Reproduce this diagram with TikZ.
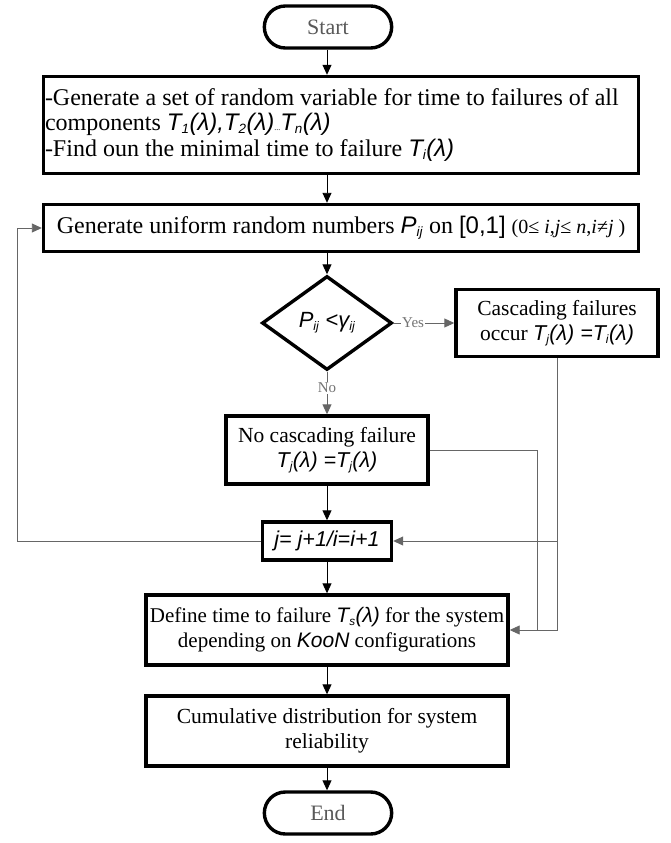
\documentclass[tikz,border=0pt]{standalone}
\usepackage{fontspec}
\setmainfont{Liberation Serif}
\newfontfamily\arf{Liberation Sans}
\usetikzlibrary{shapes.geometric,shapes.misc,arrows.meta}
\newcommand{\sv}[1]{{\arf\itshape #1}}
\newcommand{\sbs}[1]{\scalebox{0.8}{\textsubscript{#1}}}
\begin{document}
\begin{tikzpicture}[x=1pt,y=-1pt,
  box/.style={draw, line width=3.4pt, align=center, inner sep=2pt, font=\fontsize{21.5}{25}\selectfont},
  term/.style={draw, rounded rectangle, line width=3.4pt, minimum width=134pt, minimum height=42pt, text=black!65, font=\fontsize{22}{26}\selectfont},
  arr/.style={-{Triangle[length=10pt,width=9pt]}, line width=0.9pt},
  garr/.style={arr, draw=black!60},
  gline/.style={line width=0.9pt, draw=black!60},
  lbl/.style={text=black!55, font=\fontsize{15}{17}\selectfont, fill=white, inner sep=1pt}]
\useasboundingbox (0,0) rectangle (671,843);

\node[term] (start) at (328,27) {Start};

\node[box, minimum width=595pt, minimum height=97pt] (b1) at (341,125) {};
\node[anchor=west, align=left, inner sep=0pt, font=\fontsize{24}{25.5}\selectfont] (b1t) at ([xshift=3pt]b1.west)
 {-Generate a set of random variable for time to failures of all\\
  components \sv{T\sbs{1}(λ),T\sbs{2}(λ)}{\fontsize{8}{8}\selectfont...}\sv{T\sbs{n}(λ)}\\
  -Find oun the minimal time to failure \sv{T\sbs{i}(λ)}};

\node[box, minimum width=595pt, minimum height=47pt, font=\fontsize{24}{28}\selectfont] (b2) at (341,228)
 {Generate uniform random numbers \sv{P\sbs{ij}} on {\arf [0,1]} {\fontsize{20}{24}\selectfont (0≤ \textit{i},\textit{j}≤ \textit{n},\textit{i}≠\textit{j} )}};

\node[draw, diamond, aspect=1.38, minimum width=130pt, minimum height=94pt, inner sep=0pt, line width=3.4pt, font=\fontsize{22}{25}\selectfont] (dia) at (327,323) {\sv{P\sbs{ij} <γ\sbs{ij}}};

\node[box, minimum width=202pt, minimum height=67pt] (cas) at (557,323)
 {Cascading failures\\occur \sv{T\sbs{j}(λ) =T\sbs{i}(λ)}};

\node[box, minimum width=202pt, minimum height=68pt] (nocas) at (327,450)
 {No cascading failure\\\sv{T\sbs{j}(λ) =T\sbs{j}(λ)}};

\node[box, minimum width=129pt, minimum height=38pt] (jb) at (327,541) {\sv{j= j+1/i=i+1}};

\node[box, minimum width=362pt, minimum height=70pt, font=\fontsize{21}{25}\selectfont] (def) at (327,630)
 {Define time to failure \sv{T\sbs{s}(λ)} for the system\\depending on \sv{KooN} configurations};

\node[box, minimum width=362pt, minimum height=70pt] (cum) at (327,731)
 {Cumulative distribution for system\\reliability};

\node[term] (end) at (328,813) {End};

% main flow
\draw[arr] (start.south -| dia) -- (dia |- b1.north);
\draw[arr] (dia |- b1.south) -- (dia |- b2.north);
\draw[arr] (dia |- b2.south) -- (dia.north);
\draw[garr] (dia.east) -- node[lbl, pos=0.32] {Yes} (cas.west);
\draw[garr] (dia.south) -- node[lbl, pos=0.38] {No} (nocas.north);
\draw[arr] (nocas.south) -- (jb.north);
\draw[arr] (jb.south) -- (def.north);
\draw[arr] (def.south) -- (cum.north);
\draw[arr] (cum.south) -- (dia |- end.north);

% loop back
\coordinate (lp) at (17,541);
\draw[garr] (jb.west) -- (lp) |- (b2.west);

% right side connections
\coordinate (r1) at (537,630);
\coordinate (r2) at (557,630);
\draw[gline] (nocas.east) -| (r1);
\draw[garr] (cas.south) -- (r2) -- (def.east);
\draw[garr] (cas.south |- jb.east) -- (jb.east);
\end{tikzpicture}
\end{document}
